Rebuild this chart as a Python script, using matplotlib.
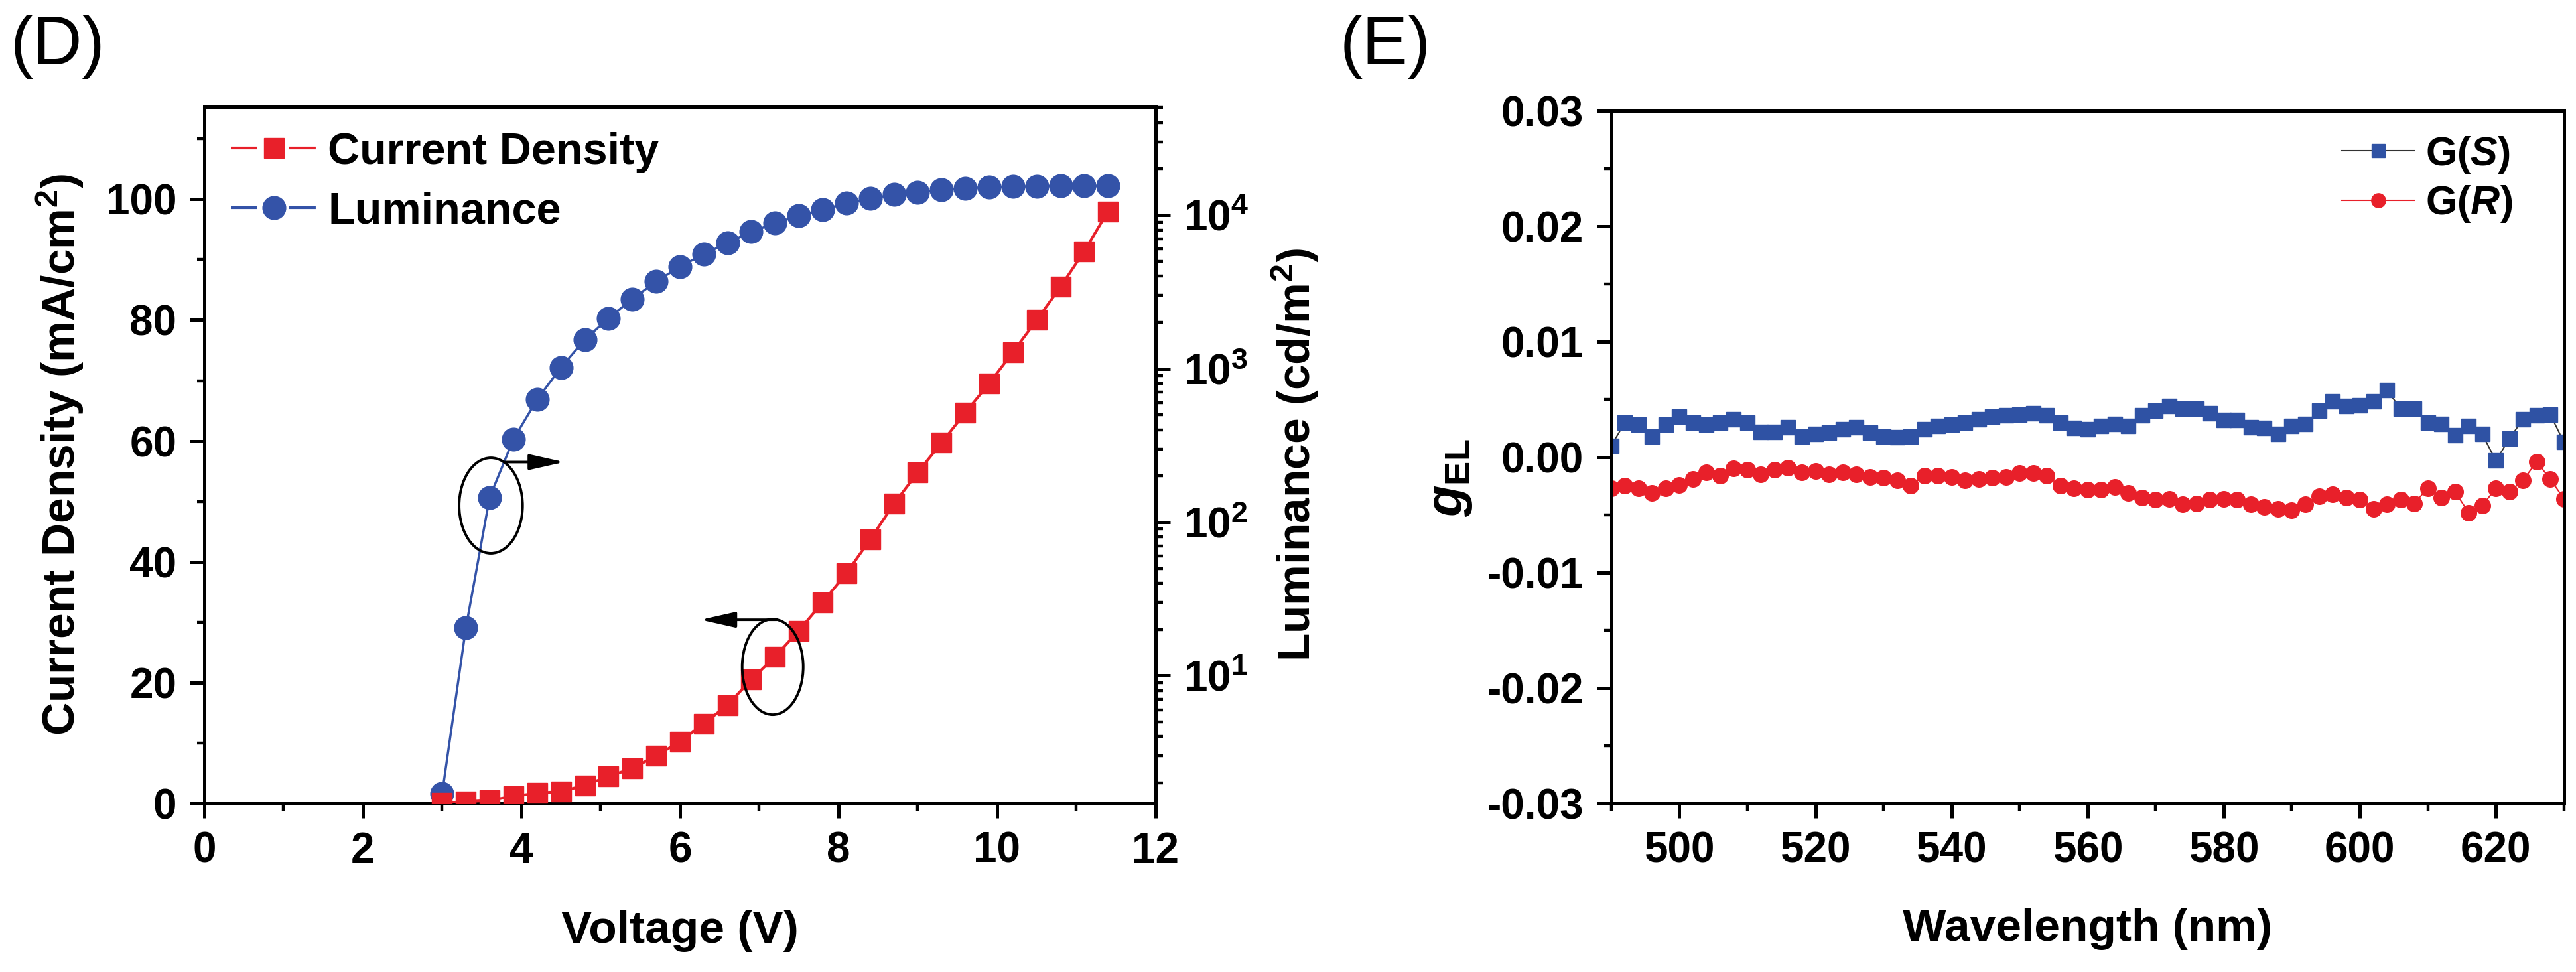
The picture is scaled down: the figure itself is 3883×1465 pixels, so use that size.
import matplotlib
matplotlib.use("Agg")
import matplotlib.pyplot as plt
import numpy as np
from matplotlib.lines import Line2D
from matplotlib.patches import Ellipse
from matplotlib.ticker import MultipleLocator, LogLocator, NullFormatter, FormatStrFormatter

plt.rcParams['font.family'] = ['Liberation Sans', 'DejaVu Sans']
plt.rcParams['font.weight'] = 'bold'
plt.rcParams['mathtext.fontset'] = 'custom'
plt.rcParams['mathtext.rm'] = 'Liberation Sans:bold'
plt.rcParams['mathtext.it'] = 'Liberation Sans:italic:bold'
plt.rcParams['mathtext.bf'] = 'Liberation Sans:bold'

# panel D: J-V-L
voltage = [3.0, 3.3, 3.6, 3.9, 4.2, 4.5, 4.8, 5.1, 5.4, 5.7, 6.0, 6.3, 6.6, 6.9, 7.2,
           7.5, 7.8, 8.1, 8.4, 8.7, 9.0, 9.3, 9.6, 9.9, 10.2, 10.5, 10.8, 11.1, 11.4]
current_density = [0.1, 0.3, 0.5, 1.2, 1.7, 2.0, 3.0, 4.5, 5.8, 7.9, 10.2, 13.2, 16.3, 20.5, 24.3,
                   28.6, 33.3, 38.1, 43.7, 49.6, 54.8, 59.7, 64.7, 69.5, 74.7, 80.0, 85.5, 91.4, 98.0]
luminance = [1.7, 20.5, 145, 347, 630, 1020, 1540, 2130, 2840, 3690, 4610, 5560, 6570, 7770, 8850,
             9900, 10860, 11920, 12830, 13570, 14090, 14620, 14900, 15200, 15300, 15400, 15450, 15450, 15450]

# panel E: g_EL spectra
wavelength = list(range(490, 631, 2))
g_S = [0.0010, 0.0030, 0.0028, 0.0018, 0.0028, 0.0035, 0.0030, 0.0028, 0.0030, 0.0033,
       0.0030, 0.0022, 0.0022, 0.0026, 0.0018, 0.0020, 0.0021, 0.0024, 0.0026, 0.0021,
       0.0018, 0.0017, 0.0018, 0.0024, 0.0027, 0.0028, 0.0030, 0.0033, 0.0035, 0.0036,
       0.0037, 0.0038, 0.0036, 0.0030, 0.0025, 0.0024, 0.0027, 0.0029, 0.0027, 0.0036,
       0.0040, 0.0044, 0.0042, 0.0042, 0.0038, 0.0032, 0.0032, 0.0026, 0.0025, 0.0020,
       0.0027, 0.0029, 0.0040, 0.0048, 0.0044, 0.0045, 0.0048, 0.0058, 0.0042, 0.0042,
       0.0030, 0.0029, 0.0019, 0.0027, 0.0020, -0.0003, 0.0016, 0.0033, 0.0036, 0.0037,
       0.0013]
g_R = [-0.0027, -0.0025, -0.0027, -0.0031, -0.0027, -0.0024, -0.0019, -0.0013, -0.0016, -0.0010,
       -0.0011, -0.0015, -0.0011, -0.0009, -0.0013, -0.0012, -0.0015, -0.0013, -0.0015, -0.0017,
       -0.0018, -0.0020, -0.0025, -0.0016, -0.0016, -0.0017, -0.0020, -0.0019, -0.0018, -0.0017,
       -0.0014, -0.0014, -0.0016, -0.0025, -0.0027, -0.0028, -0.0028, -0.0026, -0.0031, -0.0035,
       -0.0037, -0.0036, -0.0041, -0.0040, -0.0037, -0.0036, -0.0037, -0.0041, -0.0043, -0.0045,
       -0.0046, -0.0041, -0.0034, -0.0032, -0.0035, -0.0037, -0.0045, -0.0041, -0.0037, -0.0040,
       -0.0027, -0.0035, -0.0030, -0.0048, -0.0042, -0.0027, -0.0030, -0.0020, -0.0004, -0.0019,
       -0.0036]

RED = '#e8202a'
BLUE = '#3453a8'
TICK_FS = 46
LABEL_FS = 50


def style_axis(ax):
    for sp in ax.spines.values():
        sp.set_linewidth(3.6)
    ax.tick_params(which='major', direction='out', length=16, width=3.6, labelsize=TICK_FS, pad=14)
    ax.tick_params(which='minor', direction='out', length=8, width=3.2)


fig = plt.figure(figsize=(38.83, 14.65), dpi=100)

# ---- (D) ----
ax = fig.add_axes([0.0793, 0.1734, 0.3693, 0.7167])
ax2 = ax.twinx()
ax.set_zorder(ax2.get_zorder() + 1)
ax.patch.set_visible(False)

ax2.plot(voltage, luminance, '-o', color=BLUE, lw=2.5, ms=25, zorder=3)
ax.plot(voltage, current_density, '-s', color=RED, lw=3, ms=22, zorder=3)

ax.set_xlim(0, 12)
ax.set_ylim(0, 115.3)
ax2.set_yscale('log')
ax2.set_ylim(1.47, 5.07e4)

style_axis(ax)
style_axis(ax2)
ax.tick_params(right=False, top=False)
ax2.tick_params(left=False)
ax.xaxis.set_major_locator(MultipleLocator(2))
ax.xaxis.set_minor_locator(MultipleLocator(1))
ax.yaxis.set_major_locator(MultipleLocator(20))
ax.yaxis.set_minor_locator(MultipleLocator(10))
ax2.set_yticks([10, 100, 1000, 10000])
ax2.set_yticklabels([r'$10^{1}$', r'$10^{2}$', r'$10^{3}$', r'$10^{4}$'])
ax2.yaxis.set_minor_locator(LogLocator(base=10, subs=np.arange(2, 10)))
ax2.yaxis.set_minor_formatter(NullFormatter())

ax.set_xlabel('Voltage (V)', fontsize=LABEL_FS, fontweight='bold')
ax.set_ylabel(r'Current Density (mA/cm$^{2}$)', fontsize=LABEL_FS, fontweight='bold')
ax2.set_ylabel(r'Luminance (cd/m$^{2}$)', fontsize=LABEL_FS, fontweight='bold')
ax.xaxis.set_label_coords(0.5, -0.152)
ax.yaxis.set_label_coords(-0.125, 0.5)
ax2.yaxis.set_label_coords(1.12, 0.5)

# circles with arrows marking which axis each curve uses
ax.add_patch(Ellipse((3.615, 49.3), 0.8, 15.8, fill=False, lw=2.8, color='black', zorder=4))
ax.annotate('', xy=(4.54, 56.5), xytext=(3.78, 56.5),
            arrowprops=dict(arrowstyle='-|>,head_length=0.8,head_width=0.18', lw=2.8,
                            color='black', mutation_scale=40, shrinkA=0, shrinkB=0), zorder=4)
ax.add_patch(Ellipse((7.17, 22.6), 0.77, 15.8, fill=False, lw=2.8, color='black', zorder=4))
ax.annotate('', xy=(6.26, 30.4), xytext=(7.22, 30.4),
            arrowprops=dict(arrowstyle='-|>,head_length=0.8,head_width=0.18', lw=2.8,
                            color='black', mutation_scale=40, shrinkA=0, shrinkB=0), zorder=4)

leg_handles = [
    Line2D([], [], color=RED, lw=3, marker='s', ms=22, dashes=(9.6, 11.5)),
    Line2D([], [], color=BLUE, lw=3, marker='o', ms=25, dashes=(9.6, 11.5)),
]
ax.legend(leg_handles, ['Current Density', 'Luminance'], loc='upper left',
          bbox_to_anchor=(0.028, 0.964), frameon=False, fontsize=48, handlelength=1.94,
          handletextpad=0.25, labelspacing=0.42, borderpad=0, borderaxespad=0)

fig.text(0.004, 0.985, '(D)', fontsize=74, fontweight='normal', va='top', ha='left')

# ---- (E) ----
bx = fig.add_axes([0.6255, 0.1734, 0.3698, 0.7126])
bx.plot(wavelength, g_S, '-s', color='#333333', mfc='#2f52a4', mec='#2f52a4', lw=1.5, ms=16,
        label=r'G($\mathit{S}$)')
bx.plot(wavelength, g_R, '-o', color=RED, mfc=RED, mec=RED, lw=1.5, ms=17,
        label=r'G($\mathit{R}$)')
bx.set_xlim(490, 630)
bx.set_ylim(-0.03, 0.03)
style_axis(bx)
bx.tick_params(right=False, top=False)
bx.xaxis.set_major_locator(MultipleLocator(20))
bx.xaxis.set_minor_locator(MultipleLocator(10))
bx.yaxis.set_major_locator(MultipleLocator(0.01))
bx.yaxis.set_minor_locator(MultipleLocator(0.005))
bx.yaxis.set_major_formatter(FormatStrFormatter('%.2f'))
bx.set_xlabel('Wavelength (nm)', fontsize=LABEL_FS, fontweight='bold')
bx.set_ylabel(r'$\mathit{g}_{\mathrm{EL}}$', fontsize=LABEL_FS + 6, fontweight='bold')
bx.xaxis.set_label_coords(0.5, -0.15)
bx.yaxis.set_label_coords(-0.144, 0.47)
bx.legend(loc='upper left', bbox_to_anchor=(0.767, 0.966), frameon=False, fontsize=44,
          handlelength=1.78, handletextpad=0.28, labelspacing=0.22, borderpad=0,
          borderaxespad=0, markerscale=0.9)

fig.text(0.52, 0.985, '(E)', fontsize=74, fontweight='normal', va='top', ha='left')

fig.savefig('out.png', dpi=100)
